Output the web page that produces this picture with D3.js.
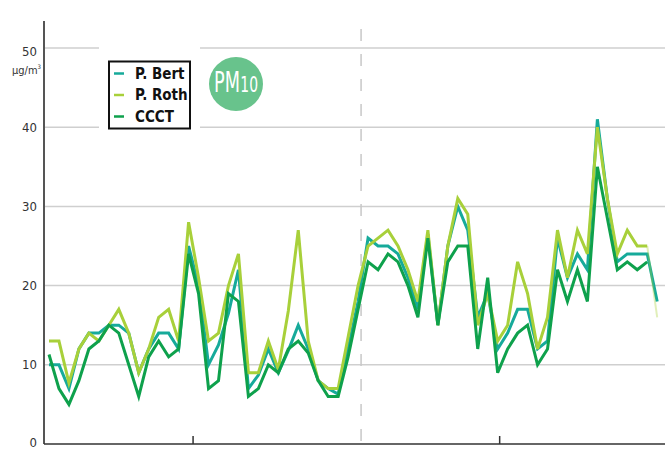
<!DOCTYPE html>
<html>
<head>
<meta charset="utf-8">
<script src="https://cdn.jsdelivr.net/npm/d3@7"></script>
<style>
html,body{margin:0;padding:0;background:#fff;}
svg{display:block;}
text{font-family:"Liberation Sans Narrow","DejaVu Sans Condensed","Roboto Condensed",sans-serif;}
</style>
</head>
<body>
<svg id="chart" width="665" height="450"></svg>
<script>
// ---- data (daily values, index 0..61) ----
const seriesNames = ["P. Bert", "P. Roth", "CCCT"];
const pBert = [10,10,7,12,14,14,15,15,14,9,12,14,14,12,25,20,10,12.5,16.5,22,7,8.7,12,9,11.8,15,12,8,7,6.3,12,18,26,25,25,24,21,17,26.5,15,25,30,27,16,19,12,14,17,17,12,13,26,21,24,22,41,31,23,24,24,24,18];
const pRoth = [13,13,7.7,12,14,13,15,17,14,9,12,16,17,13,28,21,13,14,20,24,9,9,13,9.4,16.8,27,13,8,7,7,13.5,20,25,26,27,25,22,18,27,15,25,31,29,15,19,13,15,23,19,12,16,27,21,27,24,40,31,24,27,25,25,16];
const ccct  = [11.3,7,5,8,12,13,15,14,10,6,11,13,11,12,24,19,7,8,19,18,6,7,10,9,12,13,11.5,8,6,6,11,17,23,22,24,23,20,16,26,15,23,25,25,12,21,9,12,14,15,10,12,22,18,22,18,35,28.5,22,23,22,23,null];
const yTicks = [0,10,20,30,40,50];
const xTickAt = [14.45, 45.2];   // month ticks (in day-index units)
const dividerAt = 31.3;          // dashed separator (day-index units)
const unitLabel = "µg/m";
const lastIndex = 61;

const colors = {"P. Bert":"#16aa9a","P. Roth":"#a8d03a","CCCT":"#0ea14c"};
const svg = d3.select("#chart");

const x = d3.scaleLinear().domain([0, 61]).range([49, 657.2]);
const y = d3.scaleLinear().domain([0, 50]).range([444, 48]);

// gridlines
svg.append("g").selectAll("line").data(yTicks.filter(d => d > 0)).join("line")
  .attr("x1", 44).attr("x2", 665)
  .attr("y1", d => y(d)).attr("y2", d => y(d))
  .attr("stroke", "#cfcfcf").attr("stroke-width", 1.5);

// dashed divider
svg.append("line")
  .attr("x1", x(dividerAt)).attr("x2", x(dividerAt))
  .attr("y1", y(52.4)).attr("y2", y(0))
  .attr("stroke", "#c8c8c8").attr("stroke-width", 1.5)
  .attr("stroke-dasharray", "12,13");

// white backing behind legend + badge
svg.append("rect").attr("x", 99).attr("y", 40).attr("width", 101).attr("height", 95).attr("fill", "#fff");

// y axis line
svg.append("line").attr("x1", 44).attr("x2", 44).attr("y1", y(53.4)).attr("y2", y(0))
  .attr("stroke", "#555").attr("stroke-width", 2);

// x axis line + ticks
svg.append("line").attr("x1", 44).attr("x2", 665).attr("y1", y(0)).attr("y2", y(0))
  .attr("stroke", "#333").attr("stroke-width", 1.5);
svg.append("g").selectAll("line").data(xTickAt).join("line")
  .attr("x1", d => x(d)).attr("x2", d => x(d))
  .attr("y1", y(0) - 8).attr("y2", y(0))
  .attr("stroke", "#333").attr("stroke-width", 1.5);

// y tick labels
svg.append("g").selectAll("text").data(yTicks).join("text")
  .attr("x", 37).attr("y", d => y(d) + (d === 50 ? 3 : (d === 0 ? -2 : 0)))
  .attr("dy", "0.35em").attr("text-anchor", "end")
  .attr("font-size", 13).attr("fill", "#333")
  .text(d => d);
const ut = svg.append("text").attr("x", 41).attr("y", 74).attr("text-anchor", "end")
  .attr("font-size", 11).attr("fill", "#333");
ut.append("tspan").text(unitLabel);
ut.append("tspan").attr("font-size", 6).attr("dy", -5).text("3");

// lines (last P. Roth segment is faded in the source)
const line = d3.line().x(d => x(d.i)).y(d => y(d.v));
const data = [["P. Bert", pBert], ["P. Roth", pRoth], ["CCCT", ccct]];
const g = svg.append("g");
data.forEach(([name, vals]) => {
  const pts = vals.map((v, i) => ({i, v})).filter(d => d.v != null);
  const fadeTail = name === "P. Roth";
  const main = fadeTail ? pts.filter(d => d.i < lastIndex) : pts;
  g.append("path").attr("fill", "none")
    .attr("stroke", colors[name]).attr("stroke-width", 3)
    .attr("stroke-linejoin", "miter").attr("stroke-miterlimit", 4)
    .attr("d", line(main));
  if (fadeTail) {
    g.append("path").attr("fill", "none")
      .attr("stroke", colors[name]).attr("stroke-width", 2).attr("opacity", 0.35)
      .attr("d", line(pts.filter(d => d.i >= lastIndex - 1)));
  }
});

// legend
const lg = svg.append("g");
lg.append("rect").attr("x", 109).attr("y", 61.5).attr("width", 81).attr("height", 67)
  .attr("fill", "#fff").attr("stroke", "#111").attr("stroke-width", 2);
seriesNames.forEach((n, i) => {
  const yy = 73.5 + i * 21.5;
  lg.append("line").attr("x1", 114).attr("x2", 124).attr("y1", yy).attr("y2", yy)
    .attr("stroke", colors[n]).attr("stroke-width", 2.5);
  lg.append("text").attr("x", 135).attr("y", yy).attr("dy", "0.36em")
    .attr("font-size", 15).attr("font-weight", "bold").attr("fill", "#111").text(n);
});

// PM10 badge (condensed via horizontal scaling)
svg.append("circle").attr("cx", 236).attr("cy", 84).attr("r", 27).attr("fill", "#68c38c");
const badge = svg.append("g");
const pmT = badge.append("text").attr("x", 0).attr("y", 0).attr("fill", "#fff")
  .attr("font-size", 28).text("PM");
const pmW = pmT.node().getComputedTextLength();
const tenT = badge.append("text").attr("x", pmW + 0.5).attr("y", 0).attr("fill", "#fff")
  .attr("font-size", 22).text("10");
const totalW = pmW + 0.5 + tenT.node().getComputedTextLength();
badge.attr("transform", `translate(214,92) scale(${44 / totalW},1)`);
</script>
</body>
</html>
